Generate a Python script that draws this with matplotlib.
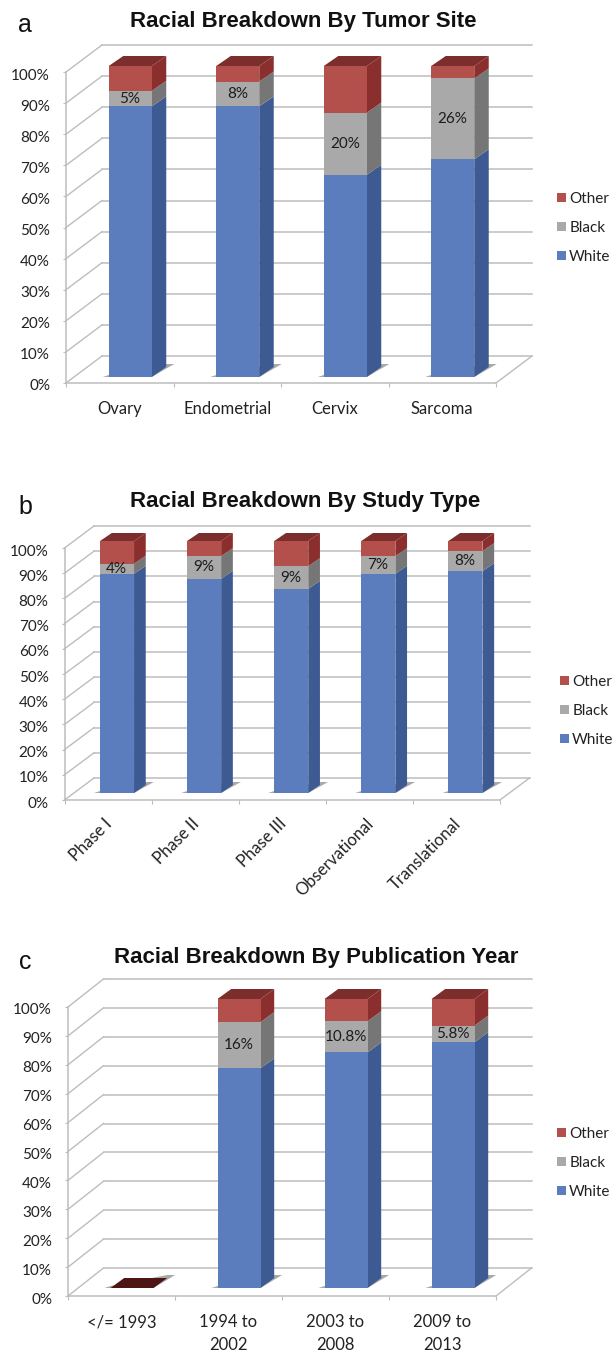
import matplotlib
matplotlib.use("Agg")
import matplotlib.pyplot as plt
from matplotlib.patches import Polygon, Patch
from matplotlib.ticker import FixedLocator, NullFormatter
from matplotlib.transforms import ScaledTranslation

W, H = 613, 1353

# Panel a
site_names = ["Ovary", "Endometrial", "Cervix", "Sarcoma"]
site_white = [87, 87, 65, 70]
site_black = [5, 8, 20, 26]
site_other = [8, 5, 15, 4]
site_labels = ["5%", "8%", "20%", "26%"]

# Panel b
study_names = ["Phase I", "Phase II", "Phase III", "Observational", "Translational"]
study_white = [87, 85, 81, 87, 88]
study_black = [4, 9, 9, 7, 8]
study_other = [9, 6, 10, 6, 4]
study_labels = ["4%", "9%", "9%", "7%", "8%"]

# Panel c
year_names = ["</= 1993", "1994 to\n2002", "2003 to\n2008", "2009 to\n2013"]
year_white = [0, 76, 81.5, 85]
year_black = [0, 16, 10.8, 5.8]
year_other = [0, 8, 7.7, 9.2]
year_labels = ["", "16%", "10.8%", "5.8%"]

percent_ticks = [0, 10, 20, 30, 40, 50, 60, 70, 80, 90, 100]
race_names = ["White", "Black", "Other"]

front = ["#5c7dbd", "#a9a9a9", "#b4504c"]
side = ["#3d5a92", "#767676", "#8a2f2d"]
top_face = "#7c2e2c"
empty_top = "#4d1614"
grid_color = "#bdbdbd"
label_font = ["Lato", "DejaVu Sans"]
title_font = ["Liberation Sans", "DejaVu Sans"]

plt.rcParams["font.family"] = label_font
fig = plt.figure(figsize=(W / 100, H / 100), dpi=100, facecolor="white")


def panel(letter, letter_xy, title, title_xy, names, white, black, other, labels,
          box, depth, bar_shift, bar_px, bar_depth, legend_xy, rotate=False):
    left, right, bottom, top = box
    ax = fig.add_axes([left / W, 1 - bottom / H, (right - left) / W, (bottom - top) / H])
    n = len(names)
    ax.set_xlim(0, n)
    ax.set_ylim(0, 100)
    ax.patch.set_visible(False)
    sx = n / (right - left)          # data units per pixel, horizontal
    sy = 100 / (bottom - top)        # data units per pixel, vertical

    ddx, ddy = depth[0] * sx, depth[1] * sy

    # Back wall rules and their receding side-wall and floor segments
    for p in percent_ticks:
        ax.plot([ddx, n + ddx], [p + ddy, p + ddy], color=grid_color, lw=1.1,
                clip_on=False, zorder=1)
        ax.plot([0, ddx], [p, p + ddy], color=grid_color, lw=1.0, clip_on=False, zorder=1)
    ax.plot([n, n + ddx], [0, ddy], color=grid_color, lw=1.0, clip_on=False, zorder=1)

    shift_x, shift_y = bar_shift[0] * sx, bar_shift[1] * sy
    half = bar_px / 2 * sx
    bdx, bdy = bar_depth[0] * sx, bar_depth[1] * sy

    for i in range(n):
        x0 = i + 0.5 + shift_x - half
        x1 = i + 0.5 + shift_x + half
        y0 = shift_y

        # Contact shadow on the floor
        ax.add_patch(Polygon(
            [(x0 - 6 * sx, y0), (x1, y0), (x1 + bdx + 8 * sx, y0 + bdy + 3 * sy),
             (x1 + bdx, y0 + bdy + 3 * sy), (x0, y0 + 2 * sy)],
            closed=True, fc="#a9a9a9", ec="none", clip_on=False, zorder=2))

        base = 0
        values = [white[i], black[i], other[i]]
        for k, v in enumerate(values):
            lo = y0 + base
            hi = y0 + base + v
            if v > 0:
                ax.add_patch(Polygon(
                    [(x1, lo), (x1 + bdx, lo + bdy), (x1 + bdx, hi + bdy), (x1, hi)],
                    closed=True, fc=side[k], ec="none", clip_on=False, zorder=3))
                ax.bar(x0, hi - lo, width=x1 - x0, bottom=lo, align="edge", color=front[k],
                       clip_on=False, zorder=4)
            base += v
        hi = y0 + base
        ax.add_patch(Polygon(
            [(x0, hi), (x1, hi), (x1 + bdx, hi + bdy), (x0 + bdx, hi + bdy)],
            closed=True, fc=top_face if base > 0 else empty_top, ec="none",
            clip_on=False, zorder=5))

        # Share of Black participants, centred on the grey segment
        if labels[i]:
            mid = y0 + white[i] + black[i] / 2
            ax.text((x0 + x1) / 2 - 0.5 * sx, mid, labels[i], ha="center", va="center",
                    fontsize=11, color="#1c1c1c", zorder=6, clip_on=False)

    ax.set_yticks(percent_ticks)
    ax.set_yticklabels([f"{p}%" for p in percent_ticks], fontsize=11, color="#222222")
    ax.tick_params(axis="y", length=2.5, width=0.8, color=grid_color, pad=9)
    nudge = ScaledTranslation(0, -2 / 100, fig.dpi_scale_trans)
    for lab in ax.get_yticklabels():
        lab.set_transform(lab.get_transform() + nudge)

    ax.set_xticks([i + 0.5 for i in range(n)])
    if rotate:
        ax.set_xticklabels(names, fontsize=12, color="#222222", rotation=45, ha="right",
                           rotation_mode="anchor")
        ax.tick_params(axis="x", which="major", length=0, pad=11)
        slide = ScaledTranslation(-4 / 100, 0, fig.dpi_scale_trans)
        for lab in ax.get_xticklabels():
            lab.set_transform(lab.get_transform() + slide)
    else:
        ax.set_xticklabels(names, fontsize=12, color="#222222", linespacing=1.5)
        ax.tick_params(axis="x", which="major", length=0, pad=13)
    ax.xaxis.set_minor_locator(FixedLocator(list(range(n + 1))))
    ax.xaxis.set_minor_formatter(NullFormatter())
    ax.tick_params(axis="x", which="minor", length=3, width=0.8, color=grid_color)

    for s in ["top", "right"]:
        ax.spines[s].set_visible(False)
    for s in ["left", "bottom"]:
        ax.spines[s].set_color(grid_color)
        ax.spines[s].set_linewidth(1.1)

    ax.set_title(title, x=(title_xy[0] - left) / (right - left),
                 y=(bottom - title_xy[1] - 2) / (bottom - top), ha="center", va="center",
                 fontsize=16, fontweight="bold", color="#111111",
                 family=title_font, pad=0)
    fig.text(letter_xy[0] / W, 1 - (letter_xy[1] + 2) / H, letter, ha="center", va="center",
             fontsize=18, color="#111111", family=title_font)

    handles = [Patch(fc=front[k], ec="none") for k in (2, 1, 0)]
    fig.legend(handles, [race_names[k] for k in (2, 1, 0)], frameon=False,
               loc="center left", bbox_to_anchor=(legend_xy[0] / W, 1 - legend_xy[1] / H),
               borderaxespad=0, borderpad=0, handlelength=0.6, handleheight=0.6,
               handletextpad=0.2, labelspacing=0.98, fontsize=11, labelcolor="#222222")
    return ax


panel("a", (25, 23), "Racial Breakdown By Tumor Site", (303, 20),
      site_names, site_white, site_black, site_other, site_labels,
      box=(66, 496, 383, 72), depth=(36, 27), bar_shift=(10.5, 6),
      bar_px=43, bar_depth=(14.5, 10), legend_xy=(557, 228))

panel("b", (25, 505), "Racial Breakdown By Study Type", (305, 500),
      study_names, study_white, study_black, study_other, study_labels,
      box=(64.5, 500, 800, 548), depth=(29.5, 22), bar_shift=(9, 7),
      bar_px=34, bar_depth=(11.7, 8), legend_xy=(560, 711), rotate=True)

panel("c", (25, 960), "Racial Breakdown By Publication Year", (316, 955),
      year_names, year_white, year_black, year_other, year_labels,
      box=(68, 496, 1296, 1007), depth=(35.5, 28), bar_shift=(10.5, 8),
      bar_px=43, bar_depth=(13.7, 10), legend_xy=(557, 1163))

fig.savefig("out.png", dpi=100, facecolor="white")
